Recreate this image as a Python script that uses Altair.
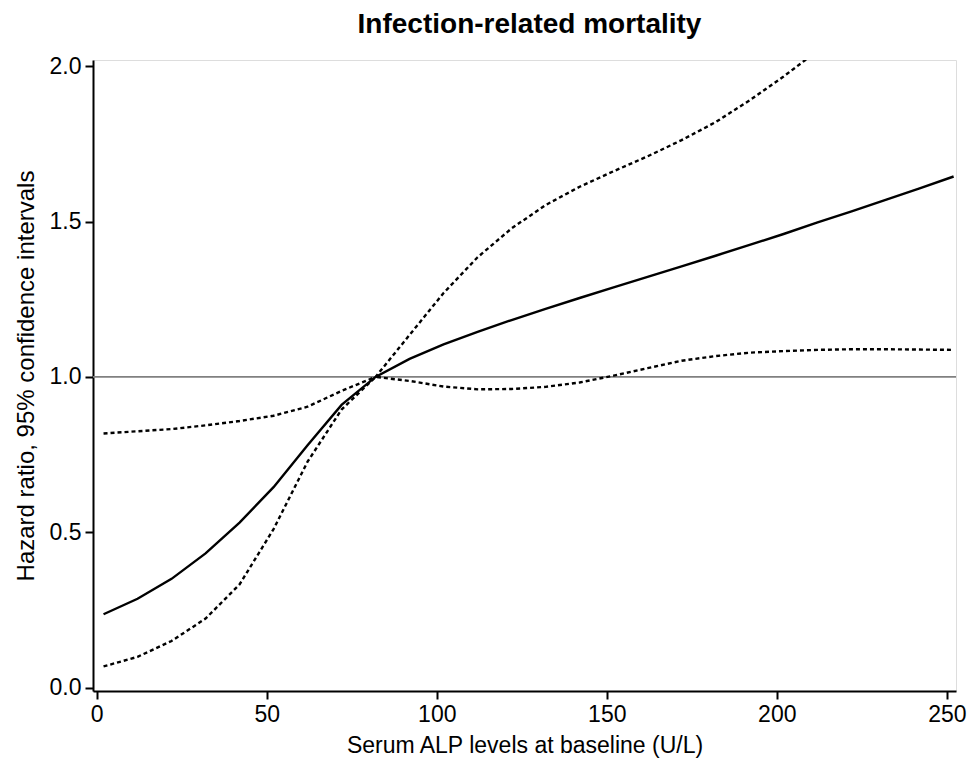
import altair as alt
import pandas as pd

# ALP values (U/L)
alp = [2, 12, 22, 32, 42, 52, 62, 72, 82, 92, 102, 112, 122, 132, 142, 152,
       162, 172, 182, 192, 202, 212, 222, 232, 242, 252]
# Hazard ratio estimate
hr = [0.236, 0.286, 0.350, 0.432, 0.531, 0.645, 0.780, 0.910, 1.000, 1.058,
      1.105, 1.145, 1.183, 1.219, 1.254, 1.288, 1.322, 1.356, 1.390, 1.425,
      1.460, 1.497, 1.533, 1.570, 1.607, 1.645]
# Lower 95% CI
lower = [0.068, 0.099, 0.150, 0.222, 0.332, 0.510, 0.727, 0.895, 1.000, 0.987,
         0.969, 0.960, 0.961, 0.968, 0.982, 1.004, 1.028, 1.052, 1.067, 1.078,
         1.083, 1.087, 1.089, 1.089, 1.088, 1.087]
# Upper 95% CI (runs off the top of the plot)
alp_upper = [2, 12, 22, 32, 42, 52, 62, 72, 82, 92, 102, 112, 122, 132, 142,
             152, 162, 172, 182, 192, 202, 212]
upper = [0.818, 0.825, 0.832, 0.844, 0.858, 0.875, 0.904, 0.955, 1.000, 1.135,
         1.270, 1.385, 1.478, 1.553, 1.612, 1.662, 1.710, 1.762, 1.820, 1.890,
         1.967, 2.050]

x_ticks = [0, 50, 100, 150, 200, 250]
y_ticks = [0.0, 0.5, 1.0, 1.5, 2.0]

df_hr = pd.DataFrame({"alp": alp, "val": hr})
df_lo = pd.DataFrame({"alp": alp, "val": lower})
df_up = pd.DataFrame({"alp": alp_upper, "val": upper})

FONT = "Liberation Sans"

xs = alt.Scale(domain=[-1.1, 252.7], nice=False, zero=False)
ys = alt.Scale(domain=[-0.011, 2.02], nice=False, zero=False)

xenc = alt.X("alp:Q", scale=xs, axis=alt.Axis(
    values=x_ticks, title="Serum ALP levels at baseline (U/L)", grid=False,
    domainColor="black", domainWidth=2, tickColor="black", tickWidth=2,
    tickSize=8, labelFontSize=23, labelPadding=4, labelColor="black",
    labelFont=FONT, titleFont=FONT, titleFontSize=23, titleFontWeight="normal",
    titleColor="black", titleY=61, titleBaseline="alphabetic"))
yenc = alt.Y("val:Q", scale=ys, axis=alt.Axis(
    values=y_ticks, format=".1f", title="Hazard ratio, 95% confidence intervals",
    grid=False, domainColor="black", domainWidth=2, tickColor="black",
    tickWidth=2, tickSize=8, labelFontSize=23, labelPadding=4,
    labelColor="black", labelFont=FONT, titleFont=FONT, titleFontSize=24,
    titleFontWeight="normal", titleColor="black", titleX=-60,
    titleBaseline="alphabetic"))

ref = alt.Chart(pd.DataFrame({"v": [1.0]})).mark_rule(
    color="#808080", strokeWidth=1.6).encode(y=alt.Y("v:Q", scale=ys))

solid = alt.Chart(df_hr).mark_line(color="black", strokeWidth=2.4, clip=True).encode(
    x=xenc, y=yenc)
lo = alt.Chart(df_lo).mark_line(color="black", strokeWidth=2.4,
                                strokeDash=[4, 3], clip=True).encode(x=xenc, y=yenc)
up = alt.Chart(df_up).mark_line(color="black", strokeWidth=2.4,
                                strokeDash=[4, 3], clip=True).encode(x=xenc, y=yenc)

chart = alt.layer(ref, solid, lo, up).properties(
    width=863, height=631,
    title=alt.TitleParams("Infection-related mortality", font=FONT, fontSize=28,
                          fontWeight="bold", color="black", offset=16,
                          anchor="middle", dx=5),
    autosize=alt.AutoSizeParams(type="none"),
    padding={"left": 93, "top": 60, "right": 18, "bottom": 69},
).configure_view(stroke=None).configure(background="white")

chart.save("out.html", embed_options={"renderer": "svg", "actions": False})
